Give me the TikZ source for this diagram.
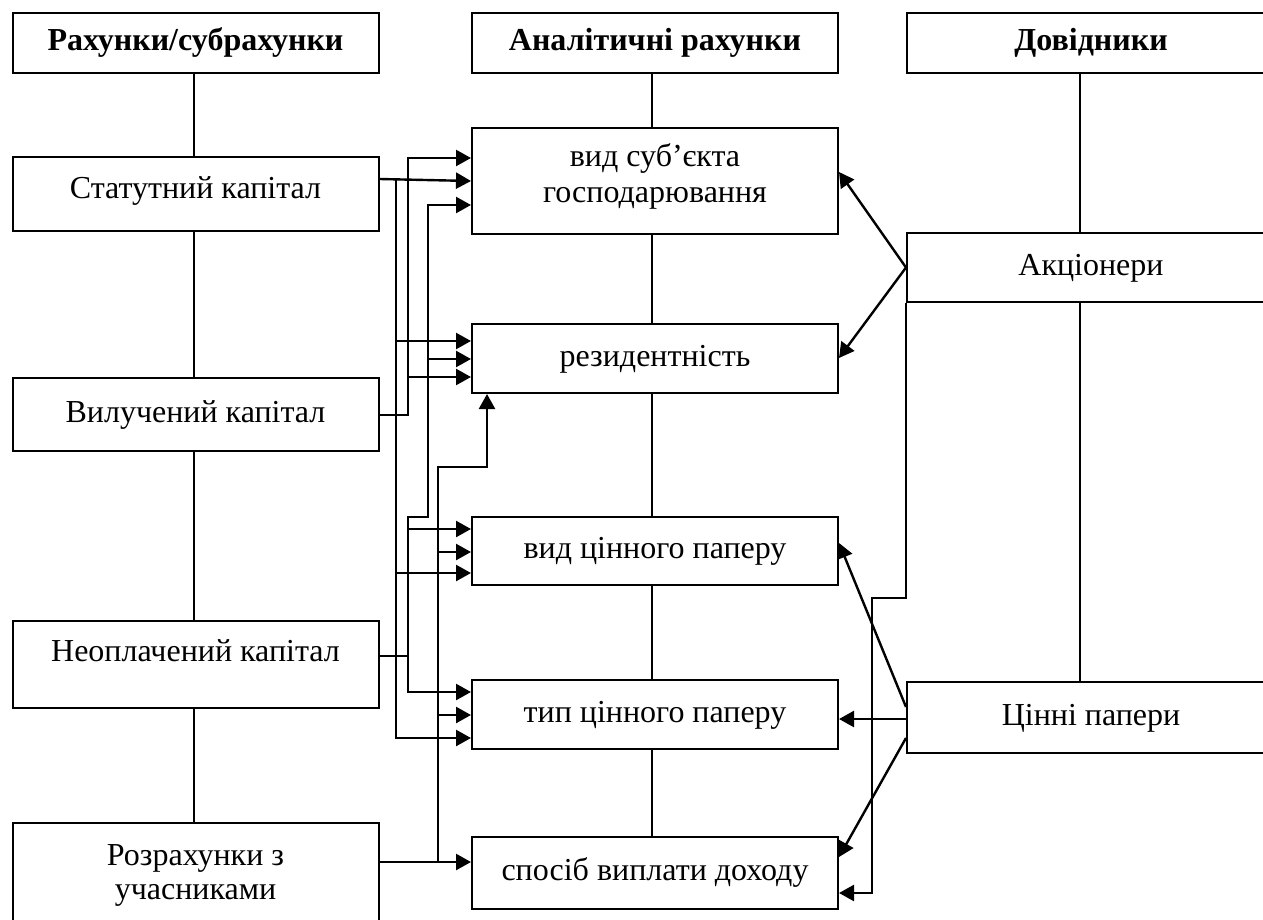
\documentclass[tikz,border=0pt]{standalone}
\usepackage{fontspec}
\setmainfont{Liberation Serif}
\usetikzlibrary{arrows.meta,calc}
\begin{document}
\begin{tikzpicture}[x=0.5pt,y=-0.5pt,
  box/.style={draw,line width=1pt,minimum width=183pt,inner sep=0pt,
    font=\fontsize{16pt}{18pt}\selectfont,text height=11pt,text depth=3.5pt},
  head/.style={box,minimum height=30pt,font=\fontsize{16pt}{18pt}\selectfont\bfseries},
  link/.style={line width=1.2pt},
  arr/.style={link,-{Triangle[length=7.5pt,width=8pt]}},
]
\useasboundingbox (0,0) rectangle (1263,920);

% column headers
\node[head] (hL) at (195.5,43) {Рахунки/субрахунки};
\node[head] (hM) at (655,43) {Аналітичні рахунки};
\node[head,minimum width=184pt] (hR) at (1091,43) {Довідники};

% accounts / subaccounts
\node[box,minimum height=37pt,text depth=6.5pt] (L1) at (195.5,194) {Статутний капітал};
\node[box,minimum height=36.5pt] (L2) at (195.5,414.5) {Вилучений капітал};
\node[box,minimum height=43.5pt,text depth=14.5pt] (L3) at (195.5,664.5) {Неоплачений капітал};
\node[box,minimum height=51pt,text depth=20pt,font=\fontsize{16pt}{17pt}\selectfont] (L4) at (195.5,874)
  {\begin{tabular}[t]{@{}c@{}}Розрахунки з\\учасниками\end{tabular}};

% analytical accounts
\node[box,minimum height=53pt,text depth=26pt] (M1) at (655,181)
  {\begin{tabular}[t]{@{}c@{}}вид суб’єкта\\господарювання\end{tabular}};
\node[box,minimum height=34.5pt] (M2) at (655,358.5) {резидентність};
\node[box,minimum height=34pt] (M3) at (655,551) {вид цінного паперу};
\node[box,minimum height=34.5pt] (M4) at (655,714.5) {тип цінного паперу};
\node[box,minimum height=36pt] (M5) at (655,873) {спосіб виплати доходу};

% reference books
\node[box,minimum width=184pt,minimum height=34.5pt] (R1) at (1091,267.5) {Акціонери};
\node[box,minimum width=184pt,minimum height=35.5pt] (R2) at (1091,717.5) {Цінні папери};

% column spines
\coordinate (xL) at (194,0);
\coordinate (xM) at (652,0);
\coordinate (xR) at (1080,0);
\draw[line width=1pt] (xL |- hL.south) -- (xL |- L1.north);
\draw[line width=1pt] (xL |- L1.south) -- (xL |- L2.north);
\draw[line width=1pt] (xL |- L2.south) -- (xL |- L3.north);
\draw[line width=1pt] (xL |- L3.south) -- (xL |- L4.north);
\draw[line width=1pt] (xM |- hM.south) -- (xM |- M1.north);
\draw[line width=1pt] (xM |- M1.south) -- (xM |- M2.north);
\draw[line width=1pt] (xM |- M2.south) -- (xM |- M3.north);
\draw[line width=1pt] (xM |- M3.south) -- (xM |- M4.north);
\draw[line width=1pt] (xM |- M4.south) -- (xM |- M5.north);
\draw[line width=1pt] (xR |- hR.south) -- (xR |- R1.north);
\draw[line width=1pt] (xR |- R1.south) -- (xR |- R2.north);

% vertical buses
\coordinate (b1) at (396,0);
\coordinate (b2) at (408,0);
\coordinate (b3) at (428,0);
\coordinate (b4) at (438,0);
\coordinate (b5) at (487,0);
\coordinate (b6) at (872,0);

% Статутний капітал
\draw[arr] (L1.east |- 0,179) -- (M1.west |- 0,181);
\draw[arr] (b1 |- 0,180) -- (b1 |- 0,738) -- (M4.west |- 0,738);
\draw[arr] (b1 |- 0,341) -- (M2.west |- 0,341);
\draw[arr] (b1 |- 0,573) -- (M3.west |- 0,573);

% Вилучений капітал
\draw[arr] (L2.east |- 0,415) -- (b2 |- 0,415) -- (b2 |- 0,158) -- (M1.west |- 0,158);
\draw[arr] (b2 |- 0,377) -- (M2.west |- 0,377);

% Неоплачений капітал
\draw[link] (L3.east |- 0,656) -- (b2 |- 0,656);
\draw[arr] (b2 |- 0,656) -- (b2 |- 0,517) -- (b3 |- 0,517) -- (b3 |- 0,205) -- (M1.west |- 0,205);
\draw[arr] (b2 |- 0,656) -- (b2 |- 0,692) -- (M4.west |- 0,692);
\draw[arr] (b2 |- 0,529) -- (M3.west |- 0,529);
\draw[arr] (b3 |- 0,359) -- (M2.west |- 0,359);

% Розрахунки з учасниками
\draw[arr] (L4.east |- 0,862) -- (M5.west |- 0,862);
\draw[arr] (b4 |- 0,862) -- (b4 |- 0,467) -- (b5 |- 0,467) -- (b5 |- M2.south);
\draw[arr] (b4 |- 0,552) -- (M3.west |- 0,552);
\draw[arr] (b4 |- 0,715) -- (M4.west |- 0,715);

% Акціонери
\draw[arr] (R1.west) -- (M1.east |- 0,172);
\draw[arr] (R1.west) -- (M2.east |- 0,358);
\draw[arr] (R1.south west) -- (R1.south west |- 0,598) -- (b6 |- 0,598) -- (b6 |- 0,893) -- (M5.east |- 0,893);

% Цінні папери
\draw[arr] (R2.west |- 0,707) -- (M3.east |- 0,543);
\draw[arr] (R2.west |- 0,719) -- (M4.east |- 0,719);
\draw[arr] (R2.west |- 0,738) -- (M5.east |- 0,857);
\end{tikzpicture}
\end{document}
